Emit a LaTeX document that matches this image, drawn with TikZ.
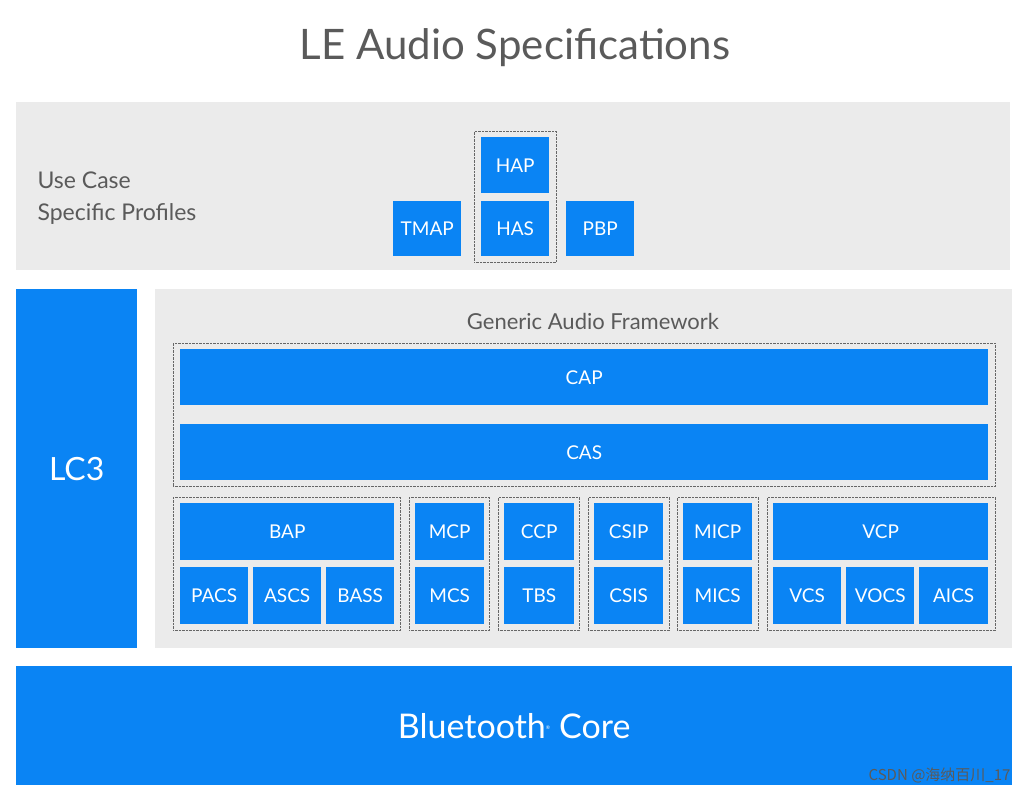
\documentclass[tikz,border=0pt]{standalone}
\usepackage{fontspec}
\setmainfont{Lato}
\newfontfamily\cjk{Noto Sans CJK SC}
\usetikzlibrary{positioning}
\definecolor{leBlue}{HTML}{0A84F4}
\definecolor{leGray}{HTML}{EBEBEB}
\definecolor{leText}{HTML}{5A5A5A}
\tikzstyle{panel} = [rectangle, fill=leGray, draw=none, anchor=north west, inner sep=0]
\tikzstyle{specNode} = [rectangle, fill=leBlue, text=white, anchor=north west, inner sep=0, font=\fontsize{19}{22}\selectfont]
\tikzstyle{grpNode} = [rectangle, draw=black!60, densely dotted, anchor=north west, inner sep=0]
% box from top-left corner, width, height
\newcommand{\specbox}[6]{\node (#1) [specNode, minimum width=#4, minimum height=#5] at (#2,#3) {#6};}
\newcommand{\grpbox}[5]{\node (#1) [grpNode, minimum width=#4, minimum height=#5] at (#2,#3) {};}

\begin{document}
\begin{tikzpicture}[x=1pt, y=-1pt]
        \useasboundingbox (0,0) rectangle (1028,794);
        \node (title) [text=leText, font=\fontsize{42}{48}\selectfont] at (515,48) {LE Audio Specifications};

        % use case profiles
        \node (usecase) [panel, minimum width=994, minimum height=168] at (16,102) {};
        \node (uclabel) [anchor=west, align=left, text=leText, font=\fontsize{23}{32}\selectfont] at (34,198) {Use Case\\Specific Profiles};
        \grpbox{hapgrp}{474}{131}{82}{131}
        \specbox{hap}{481}{137}{68}{56}{HAP}
        \specbox{has}{481}{201}{68}{55}{HAS}
        \specbox{tmap}{393}{201}{68}{55}{TMAP}
        \specbox{pbp}{566}{201}{68}{55}{PBP}

        % codec and framework
        \node (lc3) [specNode, minimum width=121, minimum height=359, font=\fontsize{32}{36}\selectfont] at (16,289) {LC3};
        \node (gaf) [panel, minimum width=857, minimum height=359] at (155,289) {};
        \node (gaflabel) [text=leText, font=\fontsize{22}{26}\selectfont] at (593,321) {Generic Audio Framework};
        \grpbox{capgrp}{173}{343}{822}{143}
        \specbox{cap}{180}{349}{808}{56}{CAP}
        \specbox{cas}{180}{424}{808}{56}{CAS}

        \grpbox{bapgrp}{173}{497}{227}{133}
        \specbox{bap}{180}{503}{214}{57}{BAP}
        \specbox{pacs}{180}{567}{68}{57}{PACS}
        \specbox{ascs}{253}{567}{68}{57}{ASCS}
        \specbox{bass}{326}{567}{68}{57}{BASS}

        \grpbox{mcpgrp}{409}{497}{80}{133}
        \specbox{mcp}{415}{503}{69}{57}{MCP}
        \specbox{mcs}{415}{567}{69}{57}{MCS}
        \grpbox{ccpgrp}{498}{497}{81}{133}
        \specbox{ccp}{504}{503}{70}{57}{CCP}
        \specbox{tbs}{504}{567}{70}{57}{TBS}
        \grpbox{csipgrp}{588}{497}{81}{133}
        \specbox{csip}{594}{503}{69}{57}{CSIP}
        \specbox{csis}{594}{567}{69}{57}{CSIS}
        \grpbox{micpgrp}{677}{497}{81}{133}
        \specbox{micp}{683}{503}{69}{57}{MICP}
        \specbox{mics}{683}{567}{69}{57}{MICS}

        \grpbox{vcpgrp}{767}{497}{228}{133}
        \specbox{vcp}{773}{503}{215}{57}{VCP}
        \specbox{vcs}{773}{567}{68}{57}{VCS}
        \specbox{vocs}{846}{567}{68}{57}{VOCS}
        \specbox{aics}{919}{567}{69}{57}{AICS}

        % core
        \node (core) [specNode, minimum width=996, minimum height=119, font=\fontsize{34}{40}\selectfont] at (16,666) {Bluetooth\textsuperscript{\tiny\textregistered} Core};
        \node (mark) [anchor=east, text=leText, font=\cjk\fontsize{15}{18}\selectfont] at (1014,775) {CSDN @海纳百川\_17};
    \end{tikzpicture}
\end{document}
